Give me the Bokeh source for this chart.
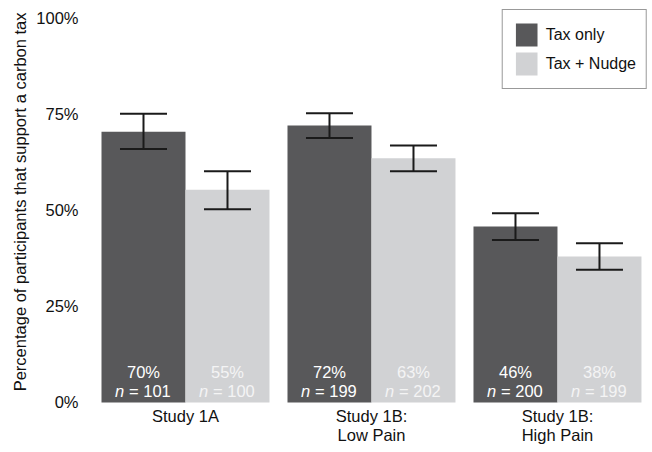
from bokeh.plotting import figure
from bokeh.models import ColumnDataSource, Whisker, TeeHead, FixedTicker, Range1d, Legend, LegendItem, Title
from bokeh.transform import dodge
from bokeh.core.properties import value
from bokeh.embed import file_html
from bokeh.resources import INLINE

# ---- data ----
studies_line1 = ["Study 1A", "Study 1B:", "Study 1B:"]
studies_line2 = ["", "Low Pain", "High Pain"]
group_pos = [0, 1, 2]
tax_only = [70.5, 72.1, 45.8]
tax_only_lo = [66.0, 68.9, 42.3]
tax_only_hi = [75.2, 75.3, 49.3]
tax_nudge = [55.4, 63.6, 38.0]
tax_nudge_lo = [50.3, 60.2, 34.6]
tax_nudge_hi = [60.2, 66.9, 41.5]
tax_only_pct = ["70%", "72%", "46%"]
tax_nudge_pct = ["55%", "63%", "38%"]
tax_only_n = ["= 101", "= 199", "= 200"]
tax_nudge_n = ["= 100", "= 202", "= 199"]
y_ticks = [0, 25, 50, 75, 100]
y_tick_labels = ["0%", "25%", "50%", "75%", "100%"]
y_title = "Percentage of participants that support a carbon tax"

DARK = "#58585a"
LIGHT = "#d1d2d4"
FONT = "Liberation Sans"
FS = "16.5px"
OFF = 0.2258
W = 0.4516

src = ColumnDataSource(dict(
    x=group_pos, a=tax_only, alo=tax_only_lo, ahi=tax_only_hi,
    b=tax_nudge, blo=tax_nudge_lo, bhi=tax_nudge_hi,
    apct=tax_only_pct, bpct=tax_nudge_pct, an=tax_only_n, bn=tax_nudge_n,
    pct_y=[8.0] * 3, n_y=[3.0] * 3, nn=["n"] * 3,
    l1=studies_line1, l2=studies_line2, l1_y=[-3.5] * 3, l2_y=[-8.45] * 3,
))

p = figure(width=650, height=448, output_backend="svg", toolbar_location=None,
           x_range=Range1d(-0.5, 2.484), y_range=Range1d(-11.98, 102.34),
           x_axis_location=None,
           min_border_left=92, min_border_right=3, min_border_top=9, min_border_bottom=0)
p.outline_line_color = None
p.xgrid.grid_line_color = None
p.ygrid.grid_line_color = None

r1 = p.vbar(x=dodge("x", -OFF), top="a", width=W, source=src, fill_color=DARK, line_color=None)
r2 = p.vbar(x=dodge("x", OFF), top="b", width=W, source=src, fill_color=LIGHT, line_color=None)

for base, lo, hi in [(-OFF, "alo", "ahi"), (OFF, "blo", "bhi")]:
    wk = Whisker(base=dodge("x", base), lower=lo, upper=hi, source=src, level="overlay",
                 line_color="#1a1a1a", line_width=2,
                 upper_head=TeeHead(size=47, line_color="#1a1a1a", line_width=2),
                 lower_head=TeeHead(size=47, line_color="#1a1a1a", line_width=2))
    p.add_layout(wk)

for off, pct, ncol, col in [(-OFF, "apct", "an", "#ffffff"), (OFF, "bpct", "bn", "#f4f4f4")]:
    p.text(x=dodge("x", off), y="pct_y", text=pct, source=src, text_color=col,
           text_font=value(FONT), text_font_size=FS, text_align="center", text_baseline="middle")
    p.text(x=dodge("x", off), y="n_y", text="nn", source=src, text_color=col, x_offset=-28.5,
           text_font=value(FONT), text_font_size=FS, text_font_style="italic",
           text_align="left", text_baseline="middle")
    p.text(x=dodge("x", off), y="n_y", text=ncol, source=src, text_color=col, x_offset=-14.5,
           text_font=value(FONT), text_font_size=FS,
           text_align="left", text_baseline="middle")

# category labels below the bars
for col, ycol in [("l1", "l1_y"), ("l2", "l2_y")]:
    p.text(x="x", y=ycol, text=col, source=src, text_color="#111111",
           text_font=value(FONT), text_font_size=FS, text_align="center", text_baseline="middle")

# y axis
p.yaxis.ticker = FixedTicker(ticks=y_ticks)
p.yaxis.major_label_overrides = {t: s for t, s in zip(y_ticks, y_tick_labels)}
ax = p.yaxis[0]
ax.axis_line_color = None
ax.major_tick_line_color = None
ax.minor_tick_line_color = None
ax.major_label_text_font = FONT
ax.major_label_text_font_size = FS
ax.major_label_text_color = "#111111"
ax.major_label_standoff = 8

ytitle = Title(text=y_title, align="right", offset=3, standoff=10,
               text_font=FONT, text_font_size=FS, text_font_style="normal",
               text_color="#111111")
p.add_layout(ytitle, "left")

legend = Legend(items=[LegendItem(label="Tax only", renderers=[r1]),
                       LegendItem(label="Tax + Nudge", renderers=[r2])],
                location="top_right", margin=0, padding=10, spacing=0,
                glyph_width=27, glyph_height=29, label_standoff=6,
                label_text_font=FONT, label_text_font_size="16px", label_text_color="#111111",
                border_line_color="#333333", border_line_width=1,
                background_fill_alpha=1.0)
p.add_layout(legend)

open("out.html", "w").write(file_html(p, INLINE))
